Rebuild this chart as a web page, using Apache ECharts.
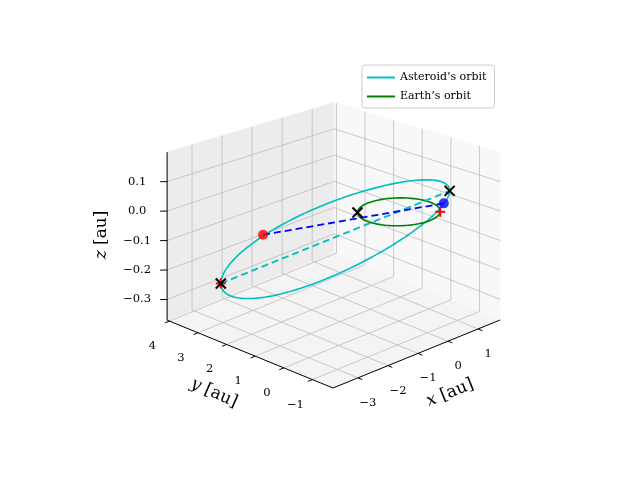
<!DOCTYPE html>
<html><head><meta charset="utf-8">
<script src="https://cdn.jsdelivr.net/npm/echarts@6/dist/echarts.min.js"></script>
<style>html,body{margin:0;padding:0;background:#fff}#c{width:640px;height:480px}</style>
</head><body><div id="c"></div>
<script>
// axis limits and ticks
const xLim = [-3.83, 1.73], yLim = [-1.72, 4.08], zLim = [-0.37, 0.2];
const xTicks = [-3, -2, -1, 0, 1];
const yTicks = [-1, 0, 1, 2, 3, 4];
const zTicks = [-0.3, -0.2, -0.1, 0.0, 0.1];
const xTickLabels = ['\u22123', '\u22122', '\u22121', '0', '1'];
const yTickLabels = ['\u22121', '0', '1', '2', '3', '4'];
const zTickLabels = ['\u22120.3', '\u22120.2', '\u22120.1', '0.0', '0.1'];
// asteroid orbit: perihelion, aphelion, conjugate semi-diameter (au)
const asteroidPerihelion = [0.71, -1.03, 0.08];
const asteroidAphelion = [-2.5, 3.6, -0.28];
const asteroidMinorAxis = [1.74, 1.83, 0.0];
// earth orbit radius (au)
const earthRadius = 1.0;
// positions
const asteroidPos = [-1.96, 2.69, -0.1];
const earthPos = [0.877, -0.65, 0.02];
const crossMarks = [[-2.5, 3.6, -0.28], [0.71, -1.03, 0.08], [-0.72, 0.69, 0.0]];
const plusMarks = [[-2.5, 3.6, -0.28], [0.69, -0.72, 0.0]];

function proj(p) {
  const dx = p[0] - xLim[0], dy = p[1] - yLim[0], dz = p[2] - zLim[0];
  const d = dx / (xLim[1] - xLim[0]) + dy / (yLim[1] - yLim[0]);
  return [333 + dx * 30.04 - dy * 28.6,
          388 - dx * 12.23 - dy * 11.7 - dz * 294.7 * (1 - 0.11 * (d - 1))];
}
const N = 240;
const astOrbit = [], earthOrbit = [];
const c = [0,1,2].map(i => (asteroidPerihelion[i] + asteroidAphelion[i]) / 2);
const M = [0,1,2].map(i => (asteroidPerihelion[i] - asteroidAphelion[i]) / 2);
for (let k = 0; k <= N; k++) {
  const t = 2 * Math.PI * k / N;
  astOrbit.push(proj([0,1,2].map(i => c[i] + Math.cos(t) * M[i] + Math.sin(t) * asteroidMinorAxis[i])));
  earthOrbit.push(proj([earthRadius * Math.cos(t), earthRadius * Math.sin(t), 0]));
}
const [X0, X1] = xLim, [Y0, Y1] = yLim, [Z0, Z1] = zLim;
const panes = [
  {pts: [[X0,Y0,Z0],[X1,Y0,Z0],[X1,Y1,Z0],[X0,Y1,Z0]], fill: '#f4f4f4'},
  {pts: [[X0,Y1,Z0],[X1,Y1,Z0],[X1,Y1,Z1],[X0,Y1,Z1]], fill: '#ececec'},
  {pts: [[X1,Y0,Z0],[X1,Y1,Z0],[X1,Y1,Z1],[X1,Y0,Z1]], fill: '#f8f8f8'}
];
const grid = [];
xTicks.forEach(x => { grid.push([[x,Y0,Z0],[x,Y1,Z0]]); grid.push([[x,Y1,Z0],[x,Y1,Z1]]); });
yTicks.forEach(y => { grid.push([[X0,y,Z0],[X1,y,Z0]]); grid.push([[X1,y,Z0],[X1,y,Z1]]); });
zTicks.forEach(z => { grid.push([[X0,Y1,z],[X1,Y1,z]]); grid.push([[X1,Y1,z],[X1,Y0,z]]); });
const axes = [[[X0,Y0,Z0],[X1,Y0,Z0]], [[X0,Y0,Z0],[X0,Y1,Z0]], [[X0,Y1,Z0],[X0,Y1,Z1]]];
const ticks = [];
xTicks.forEach(x => ticks.push([[x,Y0,Z0],[x,Y0-0.15,Z0]]));
yTicks.forEach(y => ticks.push([[X0,y,Z0],[X0-0.15,y,Z0]]));
zTicks.forEach(z => ticks.push([[X0,Y1,z],[X0-0.12,Y1+0.12,z]]));
const labels = [];
xTicks.forEach((x,i) => { const p = proj([x,Y0,Z0]); labels.push([p[0]+10, p[1]+25, xTickLabels[i]]); });
yTicks.forEach((y,i) => { const p = proj([X0,y,Z0]); labels.push([p[0]-17, p[1]+25, yTickLabels[i]]); });
zTicks.forEach((z,i) => { const p = proj([X0,Y1,z]); labels.push([p[0]-30, p[1], zTickLabels[i]]); });

const segs = (arr, color, w) => ({
  type: 'custom', silent: true, data: arr.map(s => proj(s[0]).concat(proj(s[1]))),
  renderItem: (p, api) => {
    const a = api.coord([api.value(0), api.value(1)]), b = api.coord([api.value(2), api.value(3)]);
    return {type: 'line', shape: {x1: a[0], y1: a[1], x2: b[0], y2: b[1]}, style: {stroke: color, lineWidth: w}};
  }
});
const markers = (arr, kind, color) => ({
  type: 'custom', silent: true, z: 10, data: arr.map(proj),
  renderItem: (p, api) => {
    const a = api.coord([api.value(0), api.value(1)]), r = 5;
    const s = kind === 'x' ? [[-r,-r,r,r],[-r,r,r,-r]] : [[-r,0,r,0],[0,-r,0,r]];
    return {type: 'group', children: s.map(q => ({type: 'line',
      shape: {x1: a[0]+q[0], y1: a[1]+q[1], x2: a[0]+q[2], y2: a[1]+q[3]},
      style: {stroke: color, lineWidth: 2}}))};
  }
});
const line = (pts, color, name, dash) => ({
  type: 'line', name: name, data: pts, showSymbol: false, symbol: 'none', silent: true, z: 5,
  lineStyle: {color: color, width: dash ? 1.8 : 1.6, type: dash ? [7, 4] : 'solid'}, itemStyle: {color: color}
});
const serif = 'DejaVu Serif';
const axisLabel = (x, y, rot, v) => ({type: 'text', x: x, y: y, rotation: rot * Math.PI / 180,
  style: {text: '{i|' + v + '} [au]', fontFamily: serif, fontSize: 17, fill: '#000', align: 'center', verticalAlign: 'middle',
    rich: {i: {fontFamily: serif, fontStyle: 'italic', fontSize: 17}}}});
const option = {
  animation: false,
  grid: {left: 0, right: 0, top: 0, bottom: 0},
  xAxis: {type: 'value', min: 0, max: 640, show: false},
  yAxis: {type: 'value', min: 0, max: 480, inverse: true, show: false},
  legend: {
    data: ['Asteroid\u2019s orbit', 'Earth\u2019s orbit'], orient: 'vertical', left: 362, top: 65,
    itemWidth: 28, itemHeight: 2, icon: 'rect', itemGap: 8, padding: [7, 8, 6, 5],
    borderColor: '#cccccc', borderWidth: 1, borderRadius: 3, backgroundColor: '#fff',
    textStyle: {fontFamily: serif, fontSize: 11, color: '#000'}
  },
  series: [
    {type: 'custom', silent: true, data: panes.map((p, i) => [i]),
     renderItem: (prm, api) => {
       const pn = panes[api.value(0)];
       return {type: 'polygon', shape: {points: pn.pts.map(q => api.coord(proj(q)))}, style: {fill: pn.fill, stroke: pn.fill}};
     }},
    segs(grid, '#bdbdbd', 0.8),
    segs(axes, '#000', 1),
    segs(ticks, '#000', 1),
    {type: 'custom', silent: true, data: labels,
     renderItem: (p, api) => {
       const a = api.coord([api.value(0), api.value(1)]);
       return {type: 'text', x: a[0], y: a[1], style: {text: labels[p.dataIndex][2], fontFamily: serif, fontSize: 11.5, fill: '#000', align: 'center', verticalAlign: 'middle'}};
     }},
    line(astOrbit, '#00bfbf', 'Asteroid\u2019s orbit'),
    line(earthOrbit, '#008000', 'Earth\u2019s orbit'),
    line([proj(asteroidAphelion), proj(asteroidPerihelion)], '#00bfbf', 'apsides', true),
    line([proj(asteroidPos), proj(earthPos)], '#0000ff', 'link', true),
    {type: 'scatter', silent: true, z: 11, data: [proj(asteroidPos)], symbolSize: 10, itemStyle: {color: '#ff0000'}},
    {type: 'scatter', silent: true, z: 11, data: [proj(earthPos)], symbolSize: 10, itemStyle: {color: '#0000ff'}},
    markers(plusMarks, '+', '#ff0000'),
    markers(crossMarks, 'x', '#000000')
  ],
  graphic: [
    axisLabel(450, 393, 22, 'x'),
    axisLabel(214, 393, -24, 'y'),
    axisLabel(102, 235, 90, 'z')
  ]
};
echarts.init(document.getElementById('c')).setOption(option);
</script></body></html>
